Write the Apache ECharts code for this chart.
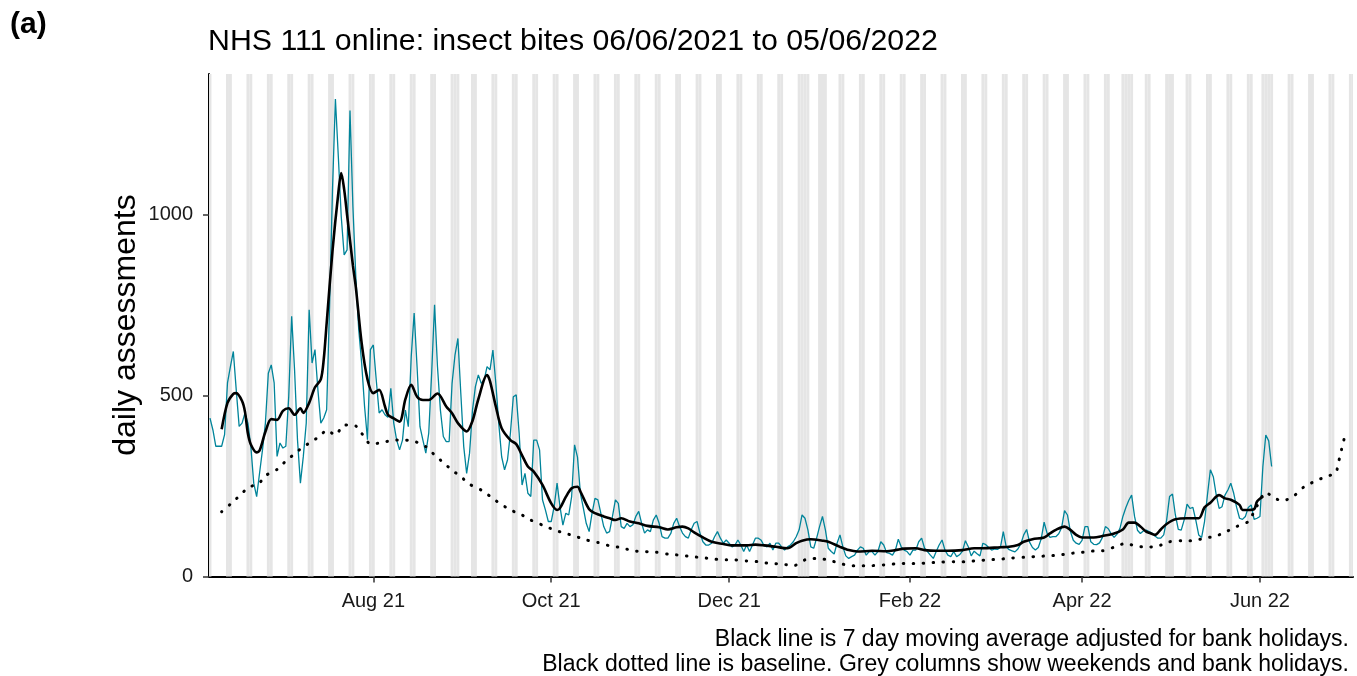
<!DOCTYPE html>
<html>
<head>
<meta charset="utf-8">
<script src="https://cdn.jsdelivr.net/npm/echarts@6/dist/echarts.min.js"></script>
<style>
  html, body { margin: 0; padding: 0; background: #fff; }
  #chart { width: 1357px; height: 676px; }
</style>
</head>
<body>
<div id="chart"></div>
<script>
// ---------- data ----------
const startDate = '2021-06-06';

// daily assessments, one value per day from 06/06/2021
const dailyValues = [
  438,405,360,360,360,392,535,580,622,516,415,424,452,424,360,258,221,286,350,424,
  562,585,535,332,369,355,360,498,719,571,378,258,332,424,737,590,627,516,424,438,
  461,746,1069,1320,1161,995,889,903,1288,1023,829,682,590,470,378,627,640,544,452,461,
  447,440,520,424,377,350,377,460,414,608,728,580,414,377,341,396,562,751,580,460,
  387,373,373,534,612,658,506,359,285,341,460,525,557,534,543,580,571,626,534,424,
  331,295,322,396,497,502,396,253,285,230,221,377,377,350,212,184,152,152,193,258,
  193,142,175,170,221,364,330,230,190,147,124,175,216,212,175,138,120,124,166,212,
  202,138,133,147,138,143,166,180,147,120,129,124,156,170,147,110,106,106,119,147,
  161,138,120,110,106,129,147,152,120,96,87,87,92,110,124,106,92,101,92,82,
  87,101,87,69,87,69,87,106,106,100,85,82,92,73,92,92,82,73,82,87,
  96,110,129,170,161,129,82,78,106,138,166,129,78,69,62,92,115,82,57,50,
  55,59,73,82,78,59,69,69,59,69,96,87,66,64,59,73,103,82,73,69,
  59,73,73,96,106,78,69,59,50,69,87,101,73,59,55,69,55,60,70,99,
  82,57,70,63,57,92,88,80,73,76,75,80,124,82,74,71,68,76,90,115,
  130,95,80,73,80,104,150,120,108,110,110,118,135,182,170,125,100,92,89,100,
  138,138,96,89,88,93,108,138,132,118,108,117,133,166,190,210,225,166,128,119,
  126,128,124,120,112,106,106,115,156,221,228,170,130,128,156,200,188,191,156,115,
  108,152,226,295,276,226,188,193,225,239,258,230,191,161,158,166,191,198,158,161,
  166,304,391,375,304
];

// 7 day moving average (day offset from start, value)
const maDays = [4,6,8,9,11,12,13,14,16,17,19,21,23,25,27,29,31,32,34,36,38,39,40,42,44,45,46,47,49,50,
  52,54,56,58,60,61,63,65,67,69,71,73,75,78,81,83,85,88,90,92,95,96,98,100,103,105,107,109,111,114,
  117,119,120,122,124,126,127,130,132,135,137,139,141,144,147,150,154,157,160,162,164,166,169,172,176,179,184,187,190,194,
  198,201,203,206,210,212,216,219,222,227,232,235,238,242,245,249,253,258,262,265,271,274,277,279,282,286,288,290,293,295,
  297,299,303,306,310,313,315,317,319,321,322,324,326,328,331,335,339,341,343,346,348,350,353,354,356,358,359,361];
const maValues = [407,480,505,507,485,455,395,365,343,348,400,435,433,458,465,447,465,452,480,523,545,600,700,900,1060,1115,1070,1000,860,800,
  645,545,507,516,470,447,437,428,490,530,497,488,488,506,470,451,424,401,430,490,557,540,470,410,377,366,335,304,290,253,
  202,184,189,220,244,248,235,186,175,166,161,156,161,152,147,140,136,130,136,138,133,122,108,96,90,86,86,88,86,82,
  78,92,99,103,99,96,82,73,69,71,70,73,77,78,73,71,71,73,78,78,81,82,87,96,103,108,119,129,138,129,
  115,108,108,112,119,130,149,149,138,124,121,115,130,145,158,161,161,191,204,225,216,212,198,184,184,186,207,221];

// baseline (day offset from start, value)
const baseDays = [4,7,10,13,17,19,23,26,29,32,35,38,40,43,46,50,52,55,59,63,67,70,74,77,80,83,86,89,93,96,
  99,103,107,110,114,118,121,125,129,133,137,141,145,149,153,157,161,165,169,173,177,180,184,188,192,196,200,204,208,212,
  216,220,223,227,231,235,239,243,247,251,255,259,263,267,271,275,279,283,287,291,294,299,302,306,310,314,317,321,325,329,
  333,337,341,345,349,352,356,359,362,365,368,372,375,379,382,386,387,388,389];
const baseValues = [179,200,222,245,259,279,296,319,339,359,373,391,405,391,419,416,396,366,370,377,377,374,359,336,315,294,276,255,239,222,
  204,184,170,156,142,129,121,112,101,94,85,80,71,69,67,62,59,55,52,48,46,46,43,41,36,35,29,46,50,46,
  36,30,30,30,32,35,36,36,38,40,41,41,44,46,48,51,53,55,57,59,63,67,70,71,81,92,85,81,84,96,
  99,99,106,112,126,138,152,195,233,216,209,225,247,264,274,287,318,352,385];

const bankHolidays = ['2021-08-30','2021-12-27','2021-12-28','2022-01-03','2022-04-15','2022-04-18','2022-05-02','2022-06-02','2022-06-03'];

const tickDates  = ['2021-08-01','2021-10-01','2021-12-01','2022-02-01','2022-04-01','2022-06-01'];
const tickLabels = ['Aug 21','Oct 21','Dec 21','Feb 22','Apr 22','Jun 22'];
const yTicks = [0, 500, 1000];

const titleText = 'NHS 111 online: insect bites 06/06/2021 to 05/06/2022';
const yTitle = 'daily assessments';
const captionLines = [
  'Black line is 7 day moving average adjusted for bank holidays.',
  'Black dotted line is baseline. Grey columns show weekends and bank holidays.'
];

// ---------- build ----------
const DAY = 86400000;
function toUTC(s) { const p = s.split('-').map(Number); return Date.UTC(p[0], p[1] - 1, p[2]); }
const START = toUTC(startDate);
function dayOf(s) { return Math.round((toUTC(s) - START) / DAY); }

const X_MIN = -0.34, X_MAX = 391.9;
const tickDays = tickDates.map(dayOf);
const holidayDays = new Set(bankHolidays.map(dayOf));

const columns = [];
for (let d = 0; d <= Math.ceil(X_MAX); d++) {
  const wd = new Date(START + d * DAY).getUTCDay();
  if (wd === 0 || wd === 6 || holidayDays.has(d)) {
    columns.push([{ xAxis: Math.max(X_MIN, d - 0.5) }, { xAxis: Math.min(X_MAX, d + 0.5) }]);
  }
}

const FONT = '"Liberation Sans", Arial, sans-serif';
const chart = echarts.init(document.getElementById('chart'), null, { renderer: 'canvas' });
chart.setOption({
  animation: false,
  backgroundColor: '#ffffff',
  grid: { left: 209, right: 4, top: 74, bottom: 99.5, containLabel: false },
  xAxis: {
    type: 'value', min: X_MIN, max: X_MAX,
    axisLine: { show: true, onZero: false, lineStyle: { color: '#000', width: 2 } },
    axisTick: { show: true, customValues: tickDays, length: 6, lineStyle: { color: '#333', width: 1.5 } },
    axisLabel: {
      customValues: tickDays, fontSize: 20, color: '#1a1a1a', margin: 15, fontFamily: FONT,
      formatter: v => { const i = tickDays.indexOf(Math.round(v)); return i >= 0 ? tickLabels[i] : ''; }
    },
    splitLine: { show: false }
  },
  yAxis: {
    type: 'value', min: 0, max: 1389,
    axisLine: { show: true, onZero: false, lineStyle: { color: '#000', width: 2 } },
    axisTick: { show: true, customValues: yTicks, length: 6, lineStyle: { color: '#333', width: 1.5 } },
    axisLabel: { customValues: yTicks, fontSize: 20, color: '#1a1a1a', margin: 16, fontFamily: FONT, formatter: v => String(v) },
    splitLine: { show: false }
  },
  graphic: [
    { type: 'text', x: 10, y: 25, style: { text: '(a)', font: 'bold 30px ' + FONT, fill: '#000', verticalAlign: 'middle' } },
    { type: 'text', x: 208, y: 42, style: { text: titleText, font: '30.3px ' + FONT, fill: '#000', verticalAlign: 'middle' } },
    { type: 'text', x: 126, y: 325, rotation: Math.PI / 2, style: { text: yTitle, font: '32px ' + FONT, fill: '#000', align: 'center', verticalAlign: 'middle' } },
    { type: 'text', x: 1349, y: 640, style: { text: captionLines[0], font: '23px ' + FONT, fill: '#000', align: 'right', verticalAlign: 'middle' } },
    { type: 'text', x: 1349, y: 665, style: { text: captionLines[1], font: '23px ' + FONT, fill: '#000', align: 'right', verticalAlign: 'middle' } }
  ],
  series: [
    {
      name: 'columns', type: 'line', data: [], z: 0, silent: true,
      markArea: { silent: true, itemStyle: { color: '#e5e5e5' }, data: columns }
    },
    {
      name: 'daily', type: 'line', z: 3, symbol: 'none',
      data: dailyValues.map((v, i) => [i, v]),
      lineStyle: { color: '#00849a', width: 1.3 }
    },
    {
      name: 'baseline', type: 'line', z: 4, symbol: 'none', smooth: 0.2,
      data: baseDays.map((d, i) => [d, baseValues[i]]),
      lineStyle: { color: '#000', width: 3, type: [0.5, 9.5], cap: 'round' }
    },
    {
      name: 'average', type: 'line', z: 5, symbol: 'none', smooth: 0.3,
      data: maDays.map((d, i) => [d, maValues[i]]),
      lineStyle: { color: '#000', width: 2.6 }
    }
  ]
});
</script>
</body>
</html>
